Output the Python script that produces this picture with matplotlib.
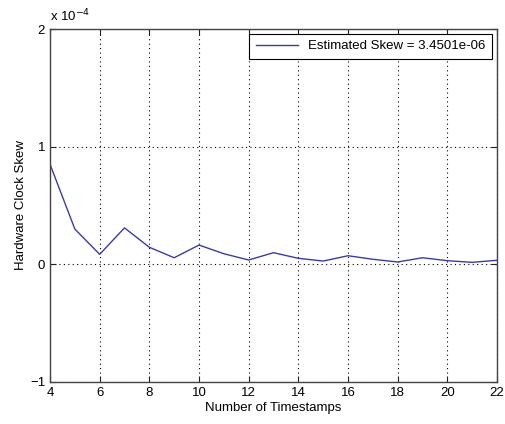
import matplotlib
matplotlib.use("Agg")
import matplotlib.pyplot as plt

# data (skew in units of 1e-4)
timestamps = list(range(4, 23))
skew_e4 = [0.851, 0.30, 0.085, 0.31, 0.145, 0.056, 0.164, 0.09, 0.037, 0.099,
           0.051, 0.028, 0.073, 0.043, 0.02, 0.056, 0.031, 0.017, 0.0345]
xticks = list(range(4, 23, 2))
yticks = [-1, 0, 1, 2]
legend_label = "Estimated Skew = 3.4501e-06"

plt.rcParams['font.family'] = ['Liberation Sans', 'DejaVu Sans']
plt.rcParams['font.size'] = 9.5

fig = plt.figure(figsize=(5.06, 4.24), dpi=100)
ax = fig.add_axes([50/506, 1 - 382/424, 447/506, 353/424])

ax.plot(timestamps, skew_e4, color='#3a3aae', lw=1.0, label=legend_label)

ax.set_xlim(4, 22)
ax.set_ylim(-1, 2)
ax.set_xticks(xticks)
ax.set_yticks(yticks)
ax.tick_params(direction='in', top=True, right=True, length=4, width=0.8,
               colors='#222222', labelcolor='black')
ax.grid(True, linestyle=(0, (1, 3)), color='black', lw=0.8)
for s in ax.spines.values():
    s.set_color('#444444')
    s.set_linewidth(1.0)

ax.set_xlabel("Number of Timestamps", labelpad=2)
ax.set_ylabel("Hardware Clock Skew", labelpad=2)
ax.text(0.0, 1.012, r"x 10$^{-4}$", transform=ax.transAxes, ha='left', va='bottom')

leg = ax.legend(loc='upper right', fancybox=False, framealpha=1, edgecolor='black',
                borderaxespad=0.35, handlelength=3.2, borderpad=0.5)
leg.get_frame().set_linewidth(0.8)

fig.savefig("out.png", dpi=100)
